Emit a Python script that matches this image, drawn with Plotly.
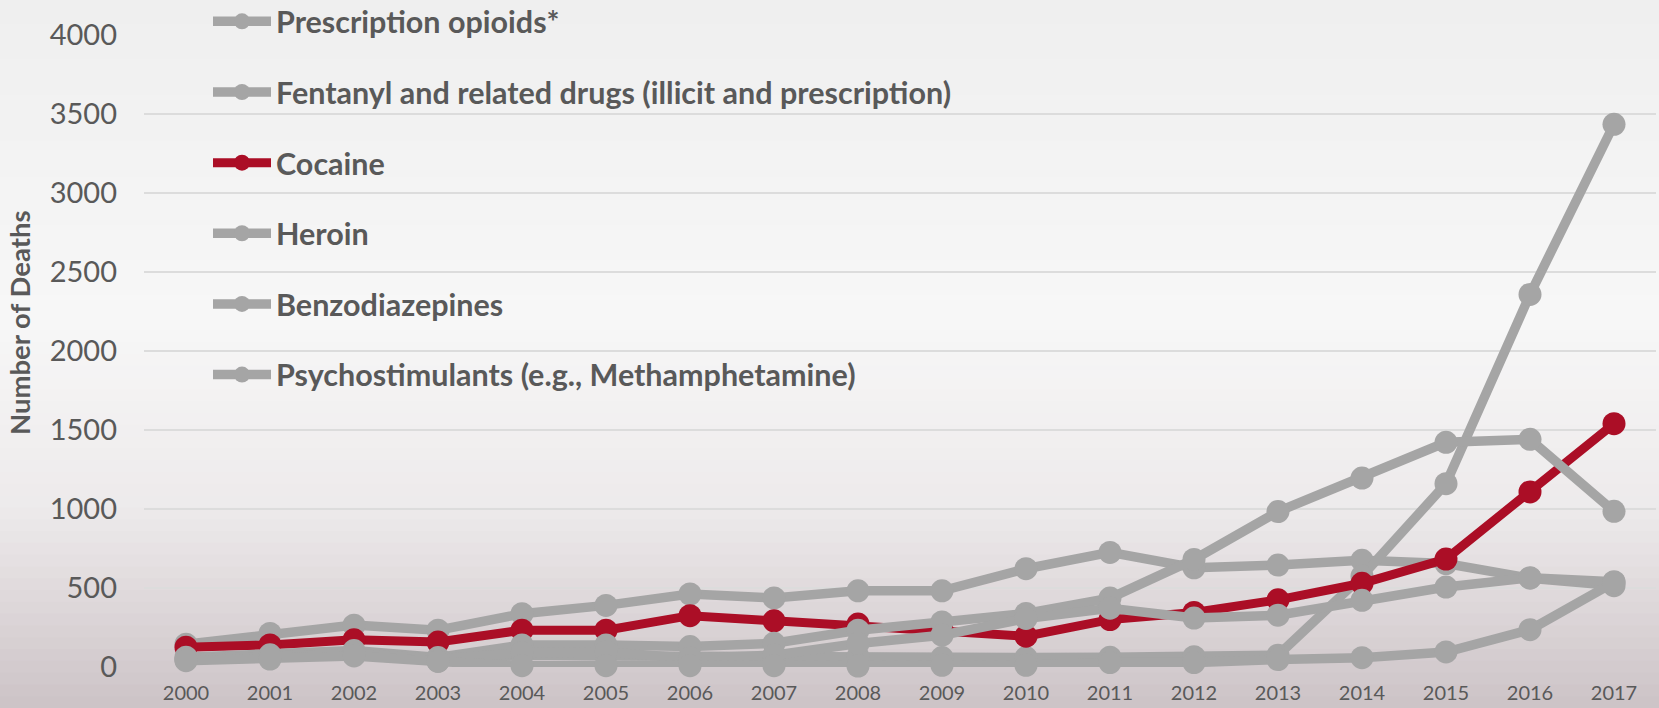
import plotly.graph_objects as go

years = list(range(2000, 2018))
year_labels = [str(y) for y in years]

series_names = [
    "Prescription opioids*",
    "Fentanyl and related drugs (illicit and prescription)",
    "Cocaine",
    "Heroin",
    "Benzodiazepines",
    "Psychostimulants (e.g., Methamphetamine)",
]

rx_opioids = [144, 212, 265, 233, 337, 390, 462, 437, 482, 482, 622, 725, 628, 645, 675, 655, 562, 515]
fentanyl = [45, 60, 77, 38, 75, 70, 65, 70, 65, 60, 60, 62, 65, 75, 575, 1160, 2358, 3435]
cocaine = [125, 140, 172, 158, 233, 233, 325, 292, 272, 235, 195, 300, 345, 425, 530, 683, 1108, 1540]
heroin = [62, 77, 104, 60, 140, 140, 129, 150, 233, 285, 339, 436, 681, 984, 1196, 1422, 1441, 985]
benzodiazepines = [50, 65, 85, 50, 90, 95, 55, 75, 149, 201, 307, 372, 310, 328, 422, 506, 565, 540]
psychostimulants = [40, 50, 70, 35, 8, 8, 8, 8, 6, 11, 11, 28, 28, 47, 59, 95, 236, 535]

y_ticks = [0, 500, 1000, 1500, 2000, 2500, 3000, 3500, 4000]

all_values = [rx_opioids, fentanyl, cocaine, heroin, benzodiazepines, psychostimulants]

GRAY = "#A5A5A5"
RED = "#AB0E26"
TEXT = "#595959"
FONT = "Lato, 'Open Sans', sans-serif"

fig = go.Figure()
for i, (name, vals) in enumerate(zip(series_names, all_values)):
    color = RED if name == "Cocaine" else GRAY
    fig.add_trace(go.Scatter(
        x=years, y=vals, name=name, mode="lines+markers",
        line=dict(color=color, width=9.5 if color == GRAY else 9),
        marker=dict(color=color, size=23),
        cliponaxis=False,
        legendgroup=f"g{i}",
    ))

# background gradient (decorative)
stops = [(0.0, (239, 239, 239)), (0.45, (247, 247, 247)), (0.72, (237, 234, 235)), (1.0, (204, 195, 198))]
def col_at(t):
    for (a, ca), (b, cb) in zip(stops[:-1], stops[1:]):
        if a <= t <= b:
            f = (t - a) / (b - a)
            return "rgb(%d,%d,%d)" % tuple(round(ca[k] + (cb[k] - ca[k]) * f) for k in range(3))
    return "rgb(%d,%d,%d)" % stops[-1][1]

shapes = []
N = 60
for k in range(N):
    t0 = k / N
    t1 = (k + 1) / N
    shapes.append(dict(type="rect", xref="paper", yref="paper",
                       x0=-0.2, x1=1.1,
                       y0=1 + 35/632 - t0 * 708/632, y1=1 + 35/632 - t1 * 708/632 - 0.002,
                       fillcolor=col_at((t0 + t1) / 2), line=dict(width=0), layer="below"))

fig.update_layout(
    width=1659, height=708,
    margin=dict(l=144, r=3, t=35, b=41, autoexpand=False),
    paper_bgcolor="rgb(240,240,240)",
    plot_bgcolor="rgba(0,0,0,0)",
    shapes=shapes,
    font=dict(family=FONT, color=TEXT),
    showlegend=True,
    legend=dict(
        xref="container", yref="paper",
        x=208/1659, y=1 + 40/632, xanchor="left", yanchor="top",
        bgcolor="rgba(0,0,0,0)",
        font=dict(family=FONT, size=30.5, color=TEXT, weight="bold"),
        tracegroupgap=28,
        itemwidth=58,
        traceorder="grouped",
        maxheight=1,
    ),
    xaxis=dict(
        range=[1999.5, 2017.5], tickmode="array", tickvals=years, ticktext=year_labels,
        showgrid=False, zeroline=False, showline=False, ticks="",
        tickfont=dict(family=FONT, size=20, color=TEXT),
        ticklabelstandoff=12,
    ),
    yaxis=dict(
        range=[0, 4000], tickmode="array", tickvals=y_ticks,
        showgrid=True, gridcolor="#DCDCDC", gridwidth=2,
        zeroline=False, showline=False, ticks="",
        tickfont=dict(family=FONT, size=29, color=TEXT),
        ticklabelstandoff=26,
    ),
    annotations=[dict(
        text="<b>Number of Deaths</b>", textangle=-90,
        xref="paper", yref="paper", x=(19 - 144) / 1512, y=(667 - 323) / 632,
        xanchor="center", yanchor="middle", showarrow=False,
        font=dict(family=FONT, size=27.5, color=TEXT),
    )],
)

fig.write_html("out.html")
